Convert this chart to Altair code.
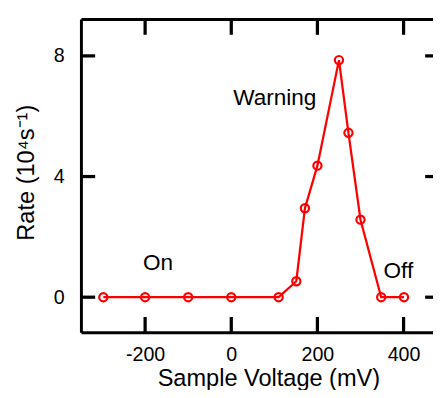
import altair as alt
import pandas as pd

# data
voltage = [-297, -200, -100, 0, 110, 151, 171, 200, 250, 272, 300, 348, 401]
rate = [0, 0, 0, 0, 0, 0.53, 2.95, 4.36, 7.86, 5.45, 2.57, 0, 0]

labels = ["Warning", "On", "Off"]
label_x = [101, -170, 388]
label_y = [6.37, 0.89, 0.65]

x_ticks = [-200, 0, 200, 400]
y_ticks = [0, 4, 8]

df = pd.DataFrame({"v": voltage, "r": rate})
ann = pd.DataFrame({"t": labels, "v": label_x, "r": label_y})
xt = pd.DataFrame({"v": x_ticks})
yt = pd.DataFrame({"r": y_ticks})

FONT = "Liberation Sans"
W, H = 358.7, 319
TICK_COLOR = "black"

xs = alt.Scale(domain=[-349, 468.3], nice=False, zero=False)
ys = alt.Scale(domain=[-1.16, 9.22], nice=False, zero=False)

frame = dict(domain=True, domainWidth=3, domainColor="black", ticks=False, grid=False)

x_main = alt.Axis(
    orient="bottom", values=x_ticks,
    labelExpr="'' + datum.value", labelFontSize=20,
    labelFont=FONT, labelColor="black", labelPadding=13,
    title="Sample Voltage (mV)", titleFont=FONT, titleFontSize=24,
    titleFontWeight="normal", titleColor="black",
    titleX=191, titleY=54, titleBaseline="alphabetic", titleAlign="center",
    **frame,
)
y_main = alt.Axis(
    orient="left", values=y_ticks,
    labelFontSize=20, labelFont=FONT, labelColor="black", labelPadding=17,
    title="Rate (10⁴s⁻¹)", titleFont=FONT, titleFontSize=24,
    titleFontWeight="normal", titleColor="black",
    titleX=-48, titleY=156, titleAngle=270, titleBaseline="alphabetic",
    titleAlign="center",
    **frame,
)
x_top = alt.Axis(orient="top", values=x_ticks, labels=False, title=None, **frame)

line = alt.Chart(df).mark_line(color="#ff0000", strokeWidth=2.3).encode(
    x=alt.X("v:Q", scale=xs, axis=x_main),
    y=alt.Y("r:Q", scale=ys, axis=y_main),
)
pts = alt.Chart(df).mark_point(
    shape="circle", filled=False, color="#ff0000", size=70, strokeWidth=2.2, opacity=1
).encode(
    x=alt.X("v:Q", scale=xs, axis=x_top),
    y=alt.Y("r:Q", scale=ys, axis=None),
)
txt = alt.Chart(ann).mark_text(
    font=FONT, fontSize=23, color="black", align="center", baseline="alphabetic"
).encode(
    x=alt.X("v:Q", scale=xs, axis=None),
    y=alt.Y("r:Q", scale=ys, axis=None),
    text="t:N",
)

tick_style = dict(color=TICK_COLOR, strokeWidth=3.3)
t_bottom = alt.Chart(xt).mark_rule(**tick_style).encode(
    x=alt.X("v:Q", scale=xs, axis=None), y=alt.value(H), y2=alt.value(H - 15.5))
t_top = alt.Chart(xt).mark_rule(**tick_style).encode(
    x=alt.X("v:Q", scale=xs, axis=None), y=alt.value(0), y2=alt.value(16))
t_left = alt.Chart(yt).mark_rule(**tick_style).encode(
    y=alt.Y("r:Q", scale=ys, axis=None), x=alt.value(0), x2=alt.value(14.5))
t_right = alt.Chart(yt).mark_rule(**tick_style).encode(
    y=alt.Y("r:Q", scale=ys, axis=None), x=alt.value(W), x2=alt.value(W - 8))

chart = (
    alt.layer(t_bottom, t_top, t_left, t_right, line, pts, txt)
    .resolve_axis(x="independent", y="independent")
    .properties(
        width=W, height=H,
        autosize=alt.AutoSizeParams(type="none"),
        padding={"left": 74.3, "top": 7.7, "right": 0, "bottom": 55.3},
    )
    .configure_view(stroke=None)
)

chart.save("out.html", embed_options={"renderer": "svg", "actions": False})
